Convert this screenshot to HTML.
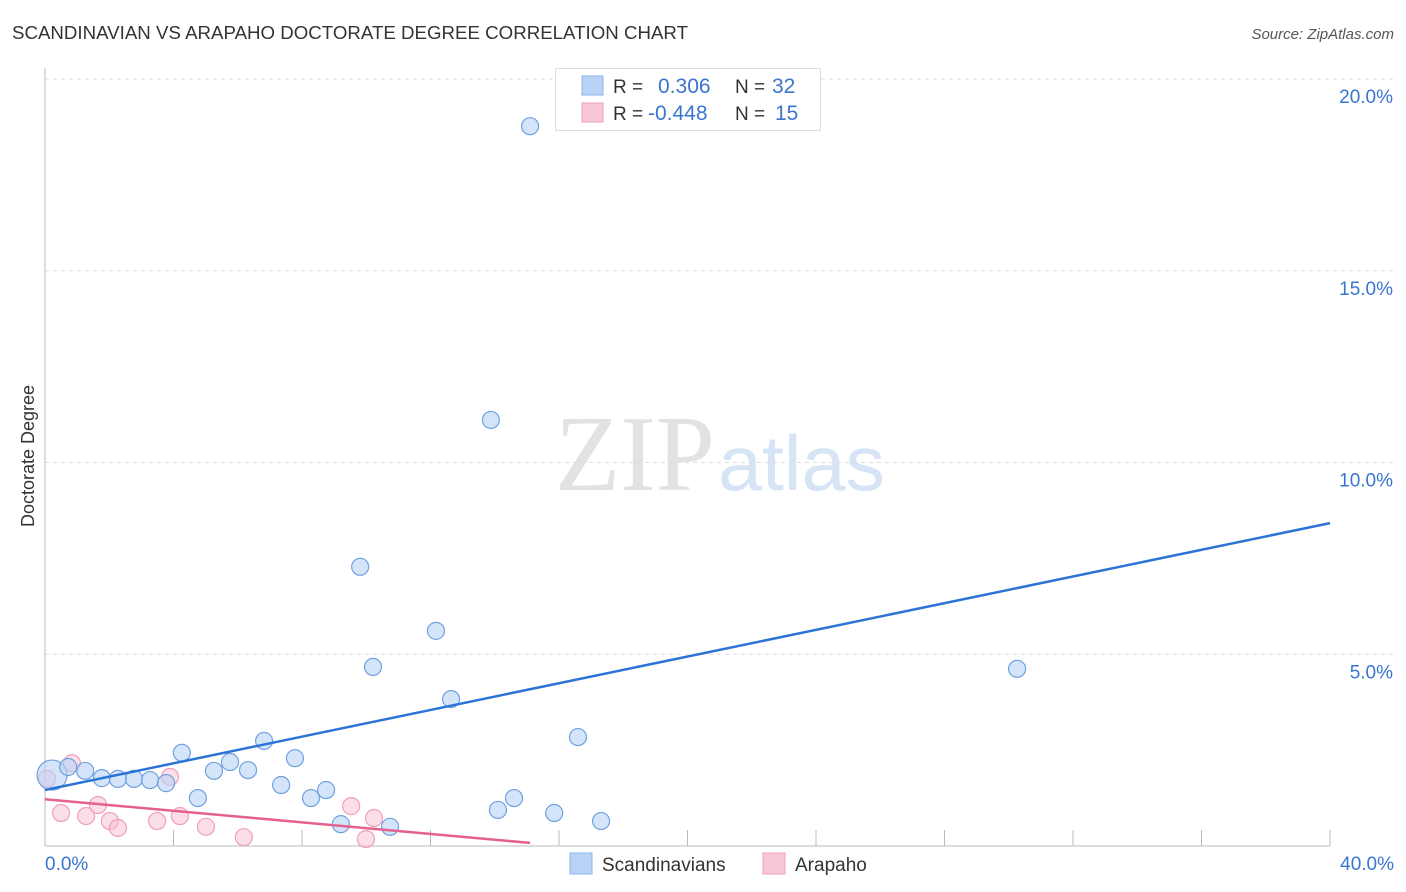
<!DOCTYPE html>
<html><head><meta charset="utf-8"><style>
body{margin:0;background:#fff;width:1406px;height:892px;overflow:hidden;font-family:"Liberation Sans",sans-serif;}
svg{position:absolute;left:0;top:0}
</style></head><body>
<svg id="chart" width="1406" height="892">
<text x="12" y="39" font-size="18" fill="#333" textLength="676" lengthAdjust="spacingAndGlyphs">SCANDINAVIAN VS ARAPAHO DOCTORATE DEGREE CORRELATION CHART</text>
<text x="1394" y="39" font-size="15" fill="#555" font-style="italic" text-anchor="end">Source: ZipAtlas.com</text>
<text transform="translate(34,456) rotate(-90)" font-size="18" fill="#333" text-anchor="middle">Doctorate Degree</text>
<g>
<text x="555" y="490" font-size="108" font-family="Liberation Serif,serif" fill="#e2e2e2" textLength="160" lengthAdjust="spacingAndGlyphs">ZIP</text>
<text x="718" y="490" font-size="78" fill="#d6e4f5" textLength="167" lengthAdjust="spacingAndGlyphs">atlas</text>
</g>
<g id="grid"></g>
<g id="axes"></g>
<g id="marks"></g>
<g>
<rect x="555.5" y="68.5" width="265" height="62" fill="#fff" stroke="#ddd"/>
<rect x="582" y="76" width="21" height="19" fill="#b8d3f5" stroke="#8ab4ea"/>
<rect x="582" y="103" width="21" height="19" fill="#f9c8d8" stroke="#eea0b9"/>
<text x="613" y="93" font-size="19" fill="#333">R =</text>
<text x="658" y="93" font-size="21" fill="#3a75d0">0.306</text>
<text x="735" y="93" font-size="19" fill="#333">N =</text>
<text x="772" y="93" font-size="21" fill="#3a75d0">32</text>
<text x="613" y="120" font-size="19" fill="#333">R =</text>
<text x="648" y="120" font-size="21" fill="#3a75d0">-0.448</text>
<text x="735" y="120" font-size="19" fill="#333">N =</text>
<text x="775" y="120" font-size="21" fill="#3a75d0">15</text>
</g>
<g>
<rect x="570" y="853" width="22" height="21" fill="#b8d3f5" stroke="#8ab4ea"/>
<text x="602" y="871" font-size="19" fill="#333">Scandinavians</text>
<rect x="763" y="853" width="22" height="21" fill="#f9c8d8" stroke="#eea0b9"/>
<text x="795" y="871" font-size="19" fill="#333">Arapaho</text>
</g>
</svg>
<script>
const blueX=[0.22,0.72,1.25,1.77,2.27,2.77,3.27,3.77,4.26,4.76,5.26,5.76,6.32,6.82,7.35,7.78,8.28,8.75,9.21,9.81,10.21,10.74,12.17,12.64,13.88,14.10,14.60,15.10,15.85,16.59,17.31,30.26];
const blueY=[1.85,2.06,1.96,1.77,1.75,1.75,1.72,1.64,2.43,1.25,1.96,2.19,1.98,2.74,1.59,2.29,1.25,1.46,0.57,7.28,4.67,0.50,5.61,3.83,11.11,0.94,1.25,18.77,0.86,2.84,0.65,4.62];
const pinkX=[0.06,0.50,0.84,1.28,1.65,2.02,2.27,3.49,3.89,4.20,5.01,6.19,9.53,9.99,10.24];
const pinkY=[1.75,0.86,2.16,0.78,1.07,0.65,0.47,0.65,1.80,0.78,0.50,0.23,1.04,0.18,0.73];
const blueTrend=[[0,1.46],[40,8.42]];
const pinkTrend=[[0,1.22],[15.1,0.08]];
const yTicks=[5,10,15,20];
const yTickLabels=["5.0%","10.0%","15.0%","20.0%"];
const xTickLabels=["0.0%","40.0%"];
const NS="http://www.w3.org/2000/svg";
const sx=v=>45+v/40*1285, sy=v=>846-v*38.35;
function mk(tag,attrs,parent){const e=document.createElementNS(NS,tag);for(const k in attrs)e.setAttribute(k,attrs[k]);parent.appendChild(e);return e;}
const grid=document.getElementById('grid'),axes=document.getElementById('axes'),marks=document.getElementById('marks');
yTicks.forEach((t,i)=>{
 const l=mk('line',{x1:45,x2:1394,y1:sy(t),y2:sy(t),stroke:'#ddd','stroke-dasharray':'4,4'},grid);
 
 
 const tx=mk('text',{x:1393,y:sy(t)+24,'font-size':19,fill:'#3a75d0','text-anchor':'end'},grid);
 tx.textContent=yTickLabels[i];
 
 
});
const ya=mk('line',{x1:45,x2:45,y1:68,y2:846,stroke:'#bbb'},axes);


const xa=mk('line',{x1:45,x2:1330,y1:846,y2:846,stroke:'#bbb'},axes);


for(let k=1;k<=10;k++){const tk=mk('line',{x1:sx(k*4),x2:sx(k*4),y1:830,y2:846,stroke:'#bbb'},axes);
 
 }
const xl0=mk('text',{x:45,y:870,'font-size':19,fill:'#3a75d0'},axes);xl0.textContent=xTickLabels[0];


const xl1=mk('text',{x:1394,y:870,'font-size':19,fill:'#3a75d0','text-anchor':'end'},axes);xl1.textContent=xTickLabels[1];


pinkX.forEach((x,i)=>{const c=mk('circle',{cx:sx(x),cy:sy(pinkY[i]),r:8.5,fill:'rgba(249,190,210,0.5)',stroke:'#eea0b9','stroke-width':1.2},marks);
 
 });
blueX.forEach((x,i)=>{const c=mk('circle',{cx:sx(x),cy:sy(blueY[i]),r:i===0?15:8.5,fill:'rgba(184,211,245,0.6)',stroke:'#6fa0e0','stroke-width':1.2},marks);
 
 });
const bl=mk('line',{x1:sx(blueTrend[0][0]),y1:sy(blueTrend[0][1]),x2:sx(blueTrend[1][0]),y2:sy(blueTrend[1][1]),stroke:'#2b74d6','stroke-width':2.5},marks);


const pl=mk('line',{x1:sx(pinkTrend[0][0]),y1:sy(pinkTrend[0][1]),x2:sx(pinkTrend[1][0]),y2:sy(pinkTrend[1][1]),stroke:'#e4608e','stroke-width':2.5},marks);


</script>
</body></html>
